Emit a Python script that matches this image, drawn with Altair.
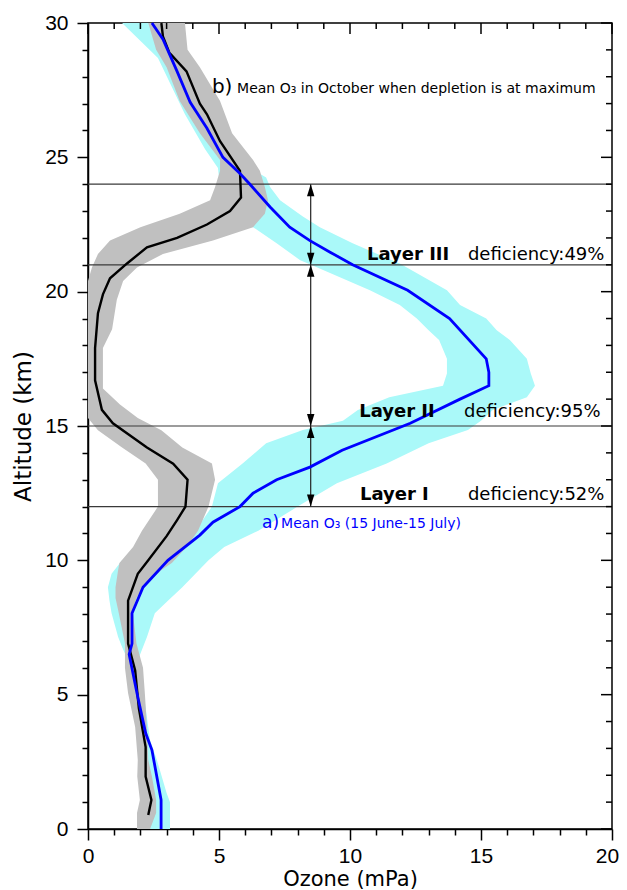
import altair as alt
import pandas as pd

# ---------------- data ----------------
# a) mean O3 15 June - 15 July (blue line) and its spread (cyan band)
blue_alt = [0, 1.08, 2.94, 3.57, 5.05, 6.5, 6.9, 8.03, 9.0, 10.0, 10.94, 11.42, 12.0, 12.5, 13.0, 13.47,
            14.1, 15.1, 16.0, 16.5, 17.0, 17.5, 19.0, 20.05, 21.0, 21.47, 21.9, 22.4, 23.15, 24.0, 24.4,
            25.0, 26.08, 27.05, 28.2, 29.4, 30]
blue_o3 = [2.79, 2.79, 2.44, 2.2, 1.87, 1.57, 1.68, 1.68, 2.1, 3.05, 4.27, 4.77, 5.8, 6.3, 7.2, 8.47,
           9.7, 12.3, 14.2, 15.3, 15.3, 15.2, 13.8, 12.2, 10.1, 9.24, 8.47, 7.7, 6.95, 6.18, 5.8,
           5.15, 4.54, 3.9, 3.4, 2.86, 2.44]

cyan_alt = [0, 1.0, 1.34, 2.57, 3.3, 4.5, 5.5, 6.4, 6.77, 7.15, 7.5, 8.03, 8.5, 9.0, 9.5, 10.0, 10.5,
            11.1, 12.0, 12.87, 13.6, 14.36, 14.85, 15.2, 15.6, 16.07, 16.5, 16.95, 17.5, 18.2, 18.56,
            19.0, 19.5, 20.05, 21.05, 21.17, 21.8, 22.4, 22.8, 23.4, 23.9, 24.25, 24.6, 25.3, 26.6,
            28.7, 30]
cyan_lo = [2.35, 2.4, 2.3, 2.1, 1.95, 1.7, 1.5, 1.47, 1.3, 1.15, 1.05, 0.9, 0.82, 0.76, 0.9, 1.3, 2.6,
           4.1, 4.73, 4.96, 5.9, 6.8, 8.2, 9.73, 10.3, 11.5, 13.55, 13.7, 13.7, 13.4, 13.0,
           12.55, 11.9, 10.76, 8.4, 8.1, 7.2, 6.3, 5.8, 5.4, 5.1, 5.0, 4.96, 4.47, 3.7,
           2.67, 1.3]
cyan_hi = [3.13, 3.13, 3.0, 2.63, 2.37, 2.2, 2.05, 1.95, 2.1, 2.25, 2.37, 2.55, 3.05, 3.6, 4.1, 4.6, 5.2,
           6.5, 8.0, 9.5, 11.4, 13.0, 14.5, 15.0, 15.45, 16.75, 17.06, 16.9, 16.75, 16.1, 15.6,
           15.2, 14.2, 13.7, 11.9, 11.6, 10.1, 8.85, 8.2, 7.33, 6.95, 6.8, 6.2, 5.6, 4.7,
           3.5, 2.6]

# b) mean O3 in October (black line) and its spread (grey band)
black_alt = [0.52, 1.08, 1.95, 3.05, 4.5, 5.9, 6.9, 8.5, 9.5, 10.0, 10.9, 11.5, 12.0, 13.0, 13.6, 14.2,
             15.1, 15.6, 16.7, 17.9, 19.2, 19.9, 20.5, 21.05, 21.65, 22.0, 22.5, 23.0, 23.5, 24.5,
             25.6, 26.6, 27.0, 28.2, 28.9, 29.5, 30]
black_o3 = [2.3, 2.42, 2.2, 2.2, 1.94, 1.8, 1.53, 1.53, 1.9, 2.3, 3.0, 3.4, 3.72, 3.8, 3.25, 2.25,
            0.95, 0.53, 0.27, 0.27, 0.38, 0.57, 0.84, 1.49, 2.25, 3.4, 4.54, 5.42, 5.84, 5.8,
            5.04, 4.54, 4.27, 3.76, 3.1, 2.86, 2.8]

gray_alt = [0, 0.6, 1.08, 1.95, 2.57, 3.8, 5.05, 6.0, 6.9, 8.15, 8.6, 9.0, 9.64, 9.9, 10.5, 11.1, 12.0,
            13.0, 13.6, 14.2, 14.84, 15.3, 15.8, 16.4, 17.9, 18.6, 19.7, 20.4, 20.9, 21.4, 21.9,
            22.4, 22.9, 23.4, 23.9, 24.5, 24.9, 25.9, 27.1, 28.35, 29.0, 30]
gray_lo = [1.87, 1.87, 1.98, 1.88, 1.9, 1.8, 1.53, 1.41, 1.41, 1.15, 1.05, 1.05, 1.15, 1.2, 1.72, 2.06,
           2.67, 2.67, 2.2, 1.3, 0.38, 0.0, 0.0, 0.0, 0.0, 0.0, 0.0, 0.0, 0.15, 0.38, 0.84,
           2.0, 3.5, 4.66, 4.85, 5.04, 5.04, 4.27, 3.5, 3.0, 2.6, 2.3]
gray_hi = [2.37, 2.6, 2.6, 2.44, 2.3, 2.25, 2.17, 2.1, 1.85, 1.7, 1.85, 2.1, 2.8, 3.2, 3.76, 4.2, 4.6,
           4.85, 4.73, 3.6, 2.8, 1.9, 1.22, 0.57, 0.57, 0.92, 1.1, 1.34, 1.87, 2.86, 4.77,
           6.3, 6.75, 6.87, 6.75, 6.56, 6.3, 5.5, 5.04, 4.27, 3.8, 3.7]

# depletion layers
layer_bounds = [12, 15, 21, 24]
arrow_x = 8.5
layer_names = ["Layer III", "Layer II", "Layer I"]
layer_deficiency = ["deficiency:49%", "deficiency:95%", "deficiency:52%"]
layer_label_x = [10.65, 10.35, 10.38]
layer_label_y = [21.17, 15.33, 12.24]
deficiency_x = [14.5, 14.35, 14.5]

# curve labels
label_a = ["a)", "Mean O\u2083 (15 June-15 July)"]
label_a_x = [6.64, 7.37]
label_a_y = 11.2
label_b = ["b)", "Mean O\u2083 in October when depletion is at maximum"]
label_b_x = [4.73, 5.69]
label_b_y = 27.38

x_tick_values = list(range(0, 21))
y_tick_values = list(range(0, 31))

# ---------------- chart ----------------
W, H = 524, 806
ANN_FONT = "DejaVu Sans"
TICK_FONT = "Liberation Sans"

xs = alt.Scale(domain=[0, 20], nice=False, zero=False)
ys = alt.Scale(domain=[0, 30], nice=False, zero=False)

major_test = "datum.value % 5 === 0"

x_axis = alt.Axis(
    values=x_tick_values, title="Ozone (mPa)",
    labelExpr="datum.value % 5 === 0 ? datum.label : ''",
    tickSize={"condition": {"test": major_test, "value": 11}, "value": 6},
    labelOffset={"condition": {"test": "datum.value === 20", "value": -5}, "value": 0},
    labelFont=TICK_FONT, labelFontSize=21, labelPadding=5, labelFlush=False, labelOverlap=False,
    titleFont=ANN_FONT, titleFontSize=21, titleFontWeight="normal",
    titleBaseline="alphabetic", titleY=56,
    grid=False,
)
y_axis = alt.Axis(
    values=y_tick_values, title="Altitude (km)",
    labelExpr="datum.value % 5 === 0 ? datum.label : ''",
    tickSize={"condition": {"test": major_test, "value": 11}, "value": 6},
    labelFont=TICK_FONT, labelFontSize=21, labelPadding=9, labelFlush=False, labelOverlap=False,
    titleFont=ANN_FONT, titleFontSize=23, titleFontWeight="normal", titlePadding=9,
    grid=False,
)


def X(field):
    return alt.X(field, scale=xs, axis=x_axis)


def Y(field):
    return alt.Y(field, scale=ys, axis=y_axis)


cyan_df = pd.DataFrame({"alt": cyan_alt, "lo": cyan_lo, "hi": cyan_hi})
gray_df = pd.DataFrame({"alt": gray_alt, "lo": gray_lo, "hi": gray_hi})
blue_df = pd.DataFrame({"alt": blue_alt, "o3": blue_o3})
black_df = pd.DataFrame({"alt": black_alt, "o3": black_o3})

cyan_band = alt.Chart(cyan_df).mark_area(orient="horizontal", color="#aaf9f9", opacity=1).encode(
    y=Y("alt:Q"), x=X("lo:Q"), x2="hi:Q",
)
gray_band = alt.Chart(gray_df).mark_area(orient="horizontal", color="#c0c0c0", opacity=1).encode(
    y=Y("alt:Q"), x=X("lo:Q"), x2="hi:Q",
)

bounds_df = pd.DataFrame({"b": layer_bounds})
hlines = alt.Chart(bounds_df).mark_rule(color="#3a3a3a", strokeWidth=1.2).encode(
    y=Y("b:Q"),
)

shaft_df = pd.DataFrame({"x": [arrow_x], "y": [min(layer_bounds)], "y2": [max(layer_bounds)]})
shaft = alt.Chart(shaft_df).mark_rule(color="#222222", strokeWidth=1.2).encode(
    x=X("x:Q"), y=Y("y:Q"), y2="y2:Q",
)

up_df = pd.DataFrame({"x": [arrow_x] * 3, "y": layer_bounds[1:]})
down_df = pd.DataFrame({"x": [arrow_x] * 3, "y": layer_bounds[:-1]})
UP_PATH = "M0,0L0.62,2L-0.62,2Z"
DOWN_PATH = "M0,0L0.62,-2L-0.62,-2Z"
up_heads = alt.Chart(up_df).mark_point(shape=UP_PATH, size=144, filled=True, color="black", opacity=1).encode(
    x=X("x:Q"), y=Y("y:Q"))
down_heads = alt.Chart(down_df).mark_point(shape=DOWN_PATH, size=144, filled=True, color="black", opacity=1).encode(
    x=X("x:Q"), y=Y("y:Q"))

black_line = alt.Chart(black_df).mark_line(color="black", strokeWidth=2.4).encode(
    x=X("o3:Q"), y=Y("alt:Q"), order="alt:Q",
)
blue_line = alt.Chart(blue_df).mark_line(color="#0000ff", strokeWidth=2.8).encode(
    x=X("o3:Q"), y=Y("alt:Q"), order="alt:Q",
)

layer_txt_df = pd.DataFrame({"x": layer_label_x, "y": layer_label_y, "t": layer_names})
def_txt_df = pd.DataFrame({"x": deficiency_x, "y": layer_label_y, "t": layer_deficiency})
layer_txt = alt.Chart(layer_txt_df).mark_text(
    font=ANN_FONT, fontSize=18, fontWeight="bold", align="left", baseline="alphabetic", color="black"
).encode(x=X("x:Q"), y=Y("y:Q"), text="t:N")
def_txt = alt.Chart(def_txt_df).mark_text(
    font=ANN_FONT, fontSize=18, align="left", baseline="alphabetic", color="black"
).encode(x=X("x:Q"), y=Y("y:Q"), text="t:N")

a_big = alt.Chart(pd.DataFrame({"x": [label_a_x[0]], "y": [label_a_y], "t": [label_a[0]]})).mark_text(
    font=ANN_FONT, fontSize=17, align="left", baseline="alphabetic", color="#0000ff"
).encode(x=X("x:Q"), y=Y("y:Q"), text="t:N")
a_small = alt.Chart(pd.DataFrame({"x": [label_a_x[1]], "y": [label_a_y], "t": [label_a[1]]})).mark_text(
    font=ANN_FONT, fontSize=14, align="left", baseline="alphabetic", color="#0000ff"
).encode(x=X("x:Q"), y=Y("y:Q"), text="t:N")
b_big = alt.Chart(pd.DataFrame({"x": [label_b_x[0]], "y": [label_b_y], "t": [label_b[0]]})).mark_text(
    font=ANN_FONT, fontSize=20, align="left", baseline="alphabetic", color="black"
).encode(x=X("x:Q"), y=Y("y:Q"), text="t:N")
b_small = alt.Chart(pd.DataFrame({"x": [label_b_x[1]], "y": [label_b_y], "t": [label_b[1]]})).mark_text(
    font=ANN_FONT, fontSize=14, align="left", baseline="alphabetic", color="black"
).encode(x=X("x:Q"), y=Y("y:Q"), text="t:N")

# mirrored inward ticks on the top and right edges
xt_df = pd.DataFrame({"v": x_tick_values})
yt_df = pd.DataFrame({"v": y_tick_values})
top_major = alt.Chart(xt_df).transform_filter("datum.v % 5 === 0").mark_rule(color="black", strokeWidth=1.5).encode(
    x=X("v:Q"), y=alt.value(0), y2=alt.value(11))
top_minor = alt.Chart(xt_df).transform_filter("datum.v % 5 !== 0").mark_rule(color="black", strokeWidth=1.5).encode(
    x=X("v:Q"), y=alt.value(0), y2=alt.value(6))
right_major = alt.Chart(yt_df).transform_filter("datum.v % 5 === 0").mark_rule(color="black", strokeWidth=1.5).encode(
    y=Y("v:Q"), x=alt.value(W), x2=alt.value(W - 11))
right_minor = alt.Chart(yt_df).transform_filter("datum.v % 5 !== 0").mark_rule(color="black", strokeWidth=1.5).encode(
    y=Y("v:Q"), x=alt.value(W), x2=alt.value(W - 6))

chart = alt.layer(
    cyan_band, gray_band, hlines, shaft, up_heads, down_heads, black_line, blue_line,
    layer_txt, def_txt, a_big, a_small, b_big, b_small,
    top_major, top_minor, right_major, right_minor,
).properties(
    width=W, height=H,
    autosize=alt.AutoSizeParams(type="none"),
    padding={"left": 80, "top": 15, "right": 7, "bottom": 61},
    background="white",
).configure_view(
    stroke="black", strokeWidth=1.5,
).configure_axis(
    domainColor="black", domainWidth=1.5, tickColor="black", tickWidth=1.5,
    labelColor="black", titleColor="black",
)

chart.save("out.html", embed_options={"renderer": "svg", "actions": False})
